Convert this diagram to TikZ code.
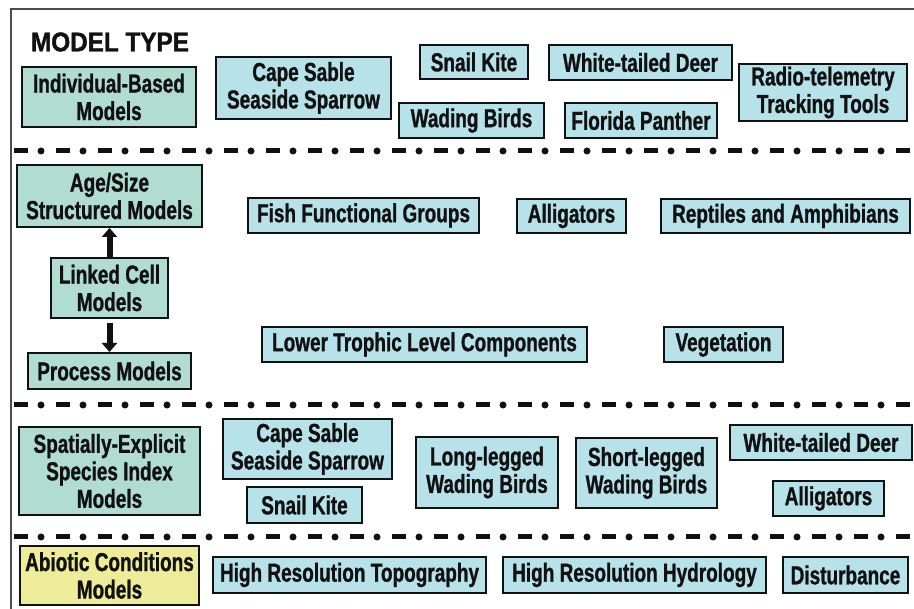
\documentclass[tikz,border=0pt]{standalone}
\usepackage{fontspec}
\newfontfamily\condfont[FakeStretch=0.73,FakeBold=1]{Liberation Sans Bold}
\newfontfamily\titlefont[FakeStretch=0.9,FakeBold=1.5]{Liberation Sans Bold}
\usetikzlibrary{arrows.meta}
\definecolor{boxgreen}{RGB}{176,221,208}
\definecolor{boxblue}{RGB}{183,226,233}
\definecolor{boxyellow}{RGB}{238,236,152}
\definecolor{ink}{RGB}{17,17,17}
\tikzset{
  base/.style={draw=ink, line width=2pt, text=ink, inner sep=0pt, align=center,
    font=\condfont\fontsize{26}{27.5}\selectfont},
  mbox/.style={base, fill=boxgreen},
  sbox/.style={base, fill=boxblue},
  abox/.style={base, fill=boxyellow},
  sep/.style={draw=ink, line width=5pt, line cap=butt, dash pattern=on 14pt off 28pt},
  sepdot/.style={draw=ink, line width=7pt, line cap=round, dash pattern=on 0pt off 42pt},
  thickarr/.style={draw=ink, line width=6pt, -{Triangle[width=15pt,length=9pt]}},
}
\begin{document}
\begin{tikzpicture}[x=1pt,y=-1pt]
\useasboundingbox (0,0) rectangle (914,609);
\begin{scope}
\clip (0,0) rectangle (914,609);
% frame
\draw[line width=1.3pt, draw=black!70] (11,609) -- (11,9) -- (914,9);
% separators
\foreach \yy in {151,405,537}{
  \draw[sep] (14,\yy) -- (914,\yy);
  \draw[sepdot] (41,\yy) -- (914,\yy);
}
\end{scope}
% title
\node[text=ink, font=\titlefont\fontsize{27}{29}\selectfont, inner sep=0pt] (title) at (110,42) {MODEL TYPE};
% row 1
\node[mbox, minimum width=174pt, minimum height=60pt] (ibm) at (109,97) {Individual-Based\\Models};
\node[sbox, minimum width=175pt, minimum height=62pt] (cs1) at (303.5,88) {Cape Sable\\Seaside Sparrow};
\node[sbox, minimum width=108pt, minimum height=34pt] (sk1) at (474,62) {Snail Kite};
\node[sbox, minimum width=183pt, minimum height=35pt] (wtd1) at (640.5,62.5) {White-tailed Deer};
\node[sbox, minimum width=168pt, minimum height=57pt] (rt) at (823,92.5) {Radio-telemetry\\Tracking Tools};
\node[sbox, minimum width=145pt, minimum height=35pt] (wb) at (471.5,120.5) {Wading Birds};
\node[sbox, minimum width=152pt, minimum height=35pt] (fp) at (641,120.5) {Florida Panther};
% row 2
\node[mbox, minimum width=185pt, minimum height=62pt] (as) at (109.5,196) {Age/Size\\Structured Models};
\node[mbox, minimum width=117pt, minimum height=60pt] (lc) at (109.5,288) {Linked Cell\\Models};
\node[mbox, minimum width=163pt, minimum height=36pt] (pm) at (109.5,371) {Process Models};
\node[sbox, minimum width=231pt, minimum height=35pt] (ffg) at (363.5,215.5) {Fish Functional Groups};
\node[sbox, minimum width=109pt, minimum height=34pt] (all2) at (571.5,216) {Alligators};
\node[sbox, minimum width=249pt, minimum height=34pt] (ra) at (785.5,216) {Reptiles and Amphibians};
\node[sbox, minimum width=325pt, minimum height=35pt] (ltl) at (424.5,344.5) {Lower Trophic Level Components};
\node[sbox, minimum width=119pt, minimum height=35pt] (veg) at (723.5,344.5) {Vegetation};
\draw[thickarr] (lc.north) -- (as.south);
\draw[thickarr, shorten <=4pt] (lc.south) -- (pm.north);
% row 3
\node[mbox, minimum width=181pt, minimum height=88pt] (se) at (109.5,471) {Spatially-Explicit\\Species Index\\Models};
\node[sbox, minimum width=169pt, minimum height=60pt] (cs3) at (307.5,449) {Cape Sable\\Seaside Sparrow};
\node[sbox, minimum width=115pt, minimum height=36pt] (sk3) at (304.5,505) {Snail Kite};
\node[sbox, minimum width=142pt, minimum height=71pt] (llwb) at (487,472.5) {Long-legged\\Wading Birds};
\node[sbox, minimum width=141pt, minimum height=70pt] (slwb) at (646.5,473) {Short-legged\\Wading Birds};
\node[sbox, minimum width=182pt, minimum height=35pt] (wtd3) at (821,442.5) {White-tailed Deer};
\node[sbox, minimum width=111pt, minimum height=35pt] (all3) at (828.5,498.5) {Alligators};
% row 4
\node[abox, minimum width=179pt, minimum height=59pt] (acm) at (109.5,575.5) {Abiotic Conditions\\Models};
\node[sbox, minimum width=273pt, minimum height=36pt] (hrt) at (349.5,575) {High Resolution Topography};
\node[sbox, minimum width=263pt, minimum height=36pt] (hrh) at (634.5,575) {High Resolution Hydrology};
\node[sbox, minimum width=125pt, minimum height=36pt] (dist) at (845.5,575) {Disturbance};
\end{tikzpicture}
\end{document}
